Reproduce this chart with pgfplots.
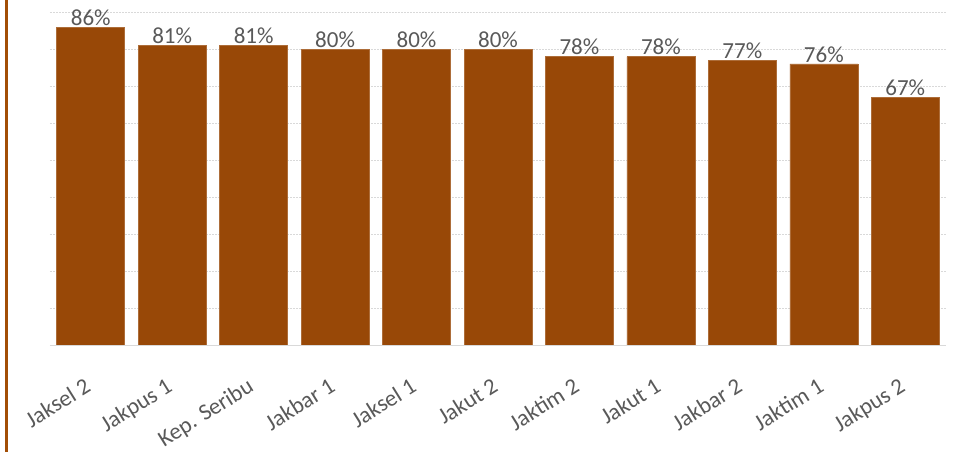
\documentclass[border=0pt]{standalone}
\usepackage{pgfplots}
\pgfplotsset{compat=1.18}
\usepackage{fontspec}
\setmainfont{Carlito}
\definecolor{barc}{HTML}{984807}
\definecolor{lblc}{HTML}{595959}
\definecolor{gridc}{HTML}{D9D9D9}
\begin{document}
\begin{tikzpicture}[x=1pt,y=1pt]
\path[use as bounding box] (0,0) rectangle (968,452);
\fill[barc!90!orange] (5,0) rectangle (8,452);
\begin{axis}[
  at={(50pt,107pt)}, anchor=south west,
  scale only axis, width=896pt, height=335pt,
  xmin=-0.5, xmax=10.5, ymin=0, ymax=90.6,
  /pgf/number format/assume math mode=true,
  axis line style={draw=none},
  axis x line*=bottom,
  ytick={10,20,...,90}, yticklabels={},
  ymajorgrids, grid style={gridc, dash pattern=on 2pt off 1pt, line width=0.8pt},
  major tick length=0pt,
  xtick=data,
  xticklabels={Jaksel 2,Jakpus 1,Kep. Seribu,Jakbar 1,Jaksel 1,Jakut 2,Jaktim 2,Jakut 1,Jakbar 2,Jaktim 1,Jakpus 2},
  xticklabel style={xshift=-6pt, yshift=-27pt, rotate=32, anchor=north east, font=\fontsize{23}{26}\selectfont, text=lblc},
  ybar, bar width=68pt,
  nodes near coords={\pgfmathprintnumber{\pgfplotspointmeta}\%},
  nodes near coords style={font=\fontsize{23}{26}\selectfont, text=lblc, yshift=-2pt},
  clip=false,
]
\addplot[fill=barc, draw=barc!80!white, line width=0.5pt] coordinates {(0,86) (1,81) (2,81) (3,80) (4,80) (5,80) (6,78) (7,78) (8,77) (9,76) (10,67)};
\draw[gridc, line width=1pt] (rel axis cs:0,0) -- (rel axis cs:1,0);
\end{axis}
\end{tikzpicture}
\end{document}
